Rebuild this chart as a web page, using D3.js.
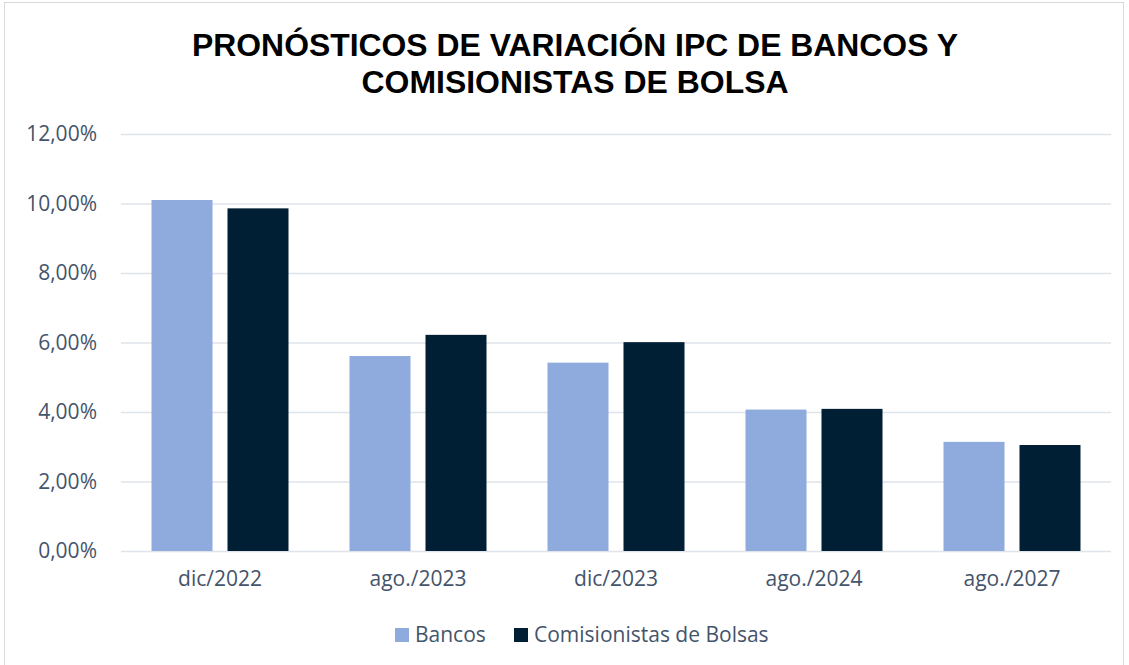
<!DOCTYPE html>
<html>
<head>
<meta charset="utf-8">
<script src="https://cdn.jsdelivr.net/npm/d3@7"></script>
<style>
  body { margin: 0; background: #fff; }
  svg { display: block; }
</style>
</head>
<body>
<svg id="chart" width="1129" height="665"></svg>
<script>
// data
var categories = ["dic/2022", "ago./2023", "dic/2023", "ago./2024", "ago./2027"];
var seriesNames = ["Bancos", "Comisionistas de Bolsas"];
var bancos = [0.1010, 0.0561, 0.0542, 0.0407, 0.0314];
var comisionistas = [0.0986, 0.0622, 0.0601, 0.0409, 0.0305];
var yTicks = [0, 0.02, 0.04, 0.06, 0.08, 0.10, 0.12];
var titleLines = ["PRONÓSTICOS DE VARIACIÓN IPC DE BANCOS Y", "COMISIONISTAS DE BOLSA"];

var colors = ["#8FAADC", "#001F35"];
var textColor = "#44546A";
var gridColor = "#DFE3EA";
var labelFont = "'Open Sans', sans-serif";

var svg = d3.select("#chart");
var margin = { top: 134, left: 121, right: 18, bottom: 114 };
var width = 1129 - margin.left - margin.right;
var height = 665 - margin.top - margin.bottom;

// outer frame of the chart area
svg.append("rect")
    .attr("x", 4.5).attr("y", 2.5)
    .attr("width", 1119).attr("height", 670)
    .attr("fill", "none")
    .attr("stroke", "#D9D9D9")
    .attr("stroke-width", 1);

// title
svg.selectAll(".title")
    .data(titleLines)
    .enter().append("text")
    .attr("class", "title")
    .attr("x", 575)
    .attr("y", function (d, i) { return 56 + i * 37; })
    .attr("text-anchor", "middle")
    .attr("textLength", function (d, i) { return i == 0 ? 766 : 427; })
    .attr("lengthAdjust", "spacingAndGlyphs")
    .style("font", "bold 32px 'Liberation Sans', Arial, sans-serif")
    .style("fill", "#000")
    .text(function (d) { return d; });

var g = svg.append("g")
    .attr("transform", "translate(" + margin.left + "," + margin.top + ")");

var x0 = d3.scaleBand().domain(categories).range([0, width]).padding(0);
var x1 = d3.scaleBand().domain(seriesNames)
    .range([30.5, x0.bandwidth() - 30.5])
    .paddingInner(15 / 76);
var y = d3.scaleLinear().domain([0, 0.12]).range([height, 0]);

var locale = d3.formatLocale({ decimal: ",", thousands: ".", grouping: [3], currency: ["", "€"] });
var pct = locale.format(".2%");

// gridlines
g.append("g")
    .attr("class", "grid")
    .call(d3.axisLeft(y).tickValues(yTicks).tickSize(-width).tickFormat(""))
    .call(function (s) { s.select(".domain").remove(); })
    .selectAll("line")
    .attr("stroke", gridColor)
    .attr("stroke-width", 1.6);

// y axis labels
g.append("g")
    .attr("class", "axis axis--y")
    .call(d3.axisLeft(y).tickValues(yTicks).tickSize(0).tickPadding(24).tickFormat(pct))
    .call(function (s) { s.select(".domain").remove(); })
    .selectAll("text")
    .style("font", "21px " + labelFont)
    .style("fill", textColor);

var rows = categories.map(function (c, i) {
    return { cat: c, values: [bancos[i], comisionistas[i]] };
});

// bars
var groups = g.selectAll(".grp")
    .data(rows)
    .enter().append("g")
    .attr("class", "grp")
    .attr("transform", function (d) { return "translate(" + x0(d.cat) + ",0)"; });

groups.selectAll("rect")
    .data(function (d) { return d.values.map(function (v, j) { return { s: seriesNames[j], v: v, j: j }; }); })
    .enter().append("rect")
    .attr("x", function (d) { return x1(d.s); })
    .attr("y", function (d) { return y(d.v); })
    .attr("width", x1.bandwidth())
    .attr("height", function (d) { return height - y(d.v); })
    .style("fill", function (d) { return colors[d.j]; });

// x axis labels
g.append("g")
    .attr("class", "axis axis--x")
    .attr("transform", "translate(0," + height + ")")
    .call(d3.axisBottom(x0).tickSize(0).tickPadding(20))
    .call(function (s) { s.select(".domain").remove(); })
    .selectAll("text")
    .style("font", "21px " + labelFont)
    .style("fill", textColor);

// legend
var legendX = [395, 514];
var legend = svg.selectAll(".legend")
    .data(seriesNames)
    .enter().append("g")
    .attr("class", "legend")
    .attr("transform", function (d, i) { return "translate(" + legendX[i] + ",628)"; });

legend.append("rect")
    .attr("width", 14).attr("height", 14)
    .style("fill", function (d, i) { return colors[i]; });

legend.append("text")
    .attr("x", 20)
    .attr("y", 14)
    .style("font", "21px " + labelFont)
    .style("fill", textColor)
    .text(function (d) { return d; });
</script>
</body>
</html>
